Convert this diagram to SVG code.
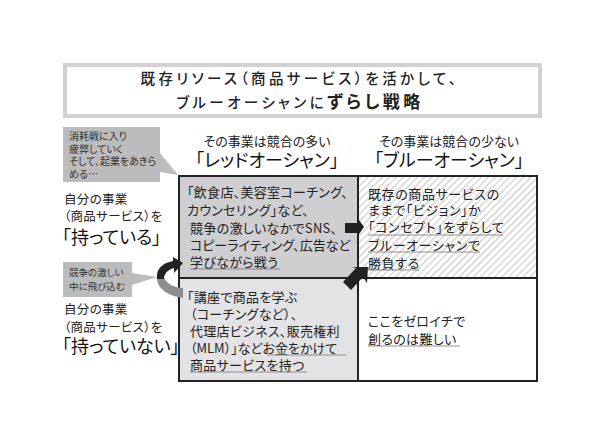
<svg xmlns="http://www.w3.org/2000/svg" width="600" height="445" viewBox="0 0 600 445">
<style>
text{font-family:"Noto Sans CJK JP","Noto Sans",sans-serif;fill:#222;font-feature-settings:"palt"}
.b{font-size:13px;letter-spacing:.3px}
.s{font-size:10px;fill:#333}
.l{font-size:12.5px;letter-spacing:.3px}
.h{font-size:18px;font-weight:400;fill:#111}
.u{fill:none;stroke:#777;stroke-width:.8}
</style>
<defs>
<pattern id="hatch" width="5" height="5" patternUnits="userSpaceOnUse" patternTransform="rotate(45)">
<rect width="5" height="5" fill="#fff"/><rect width="1.2" height="5" fill="#cdcdcd"/>
</pattern>
</defs>
<rect width="600" height="445" fill="#fff"/>
<g id="title">
<rect x="65" y="65" width="475" height="51" fill="#fff" stroke="#d2d2d2" stroke-width="4"/>
<text x="300" y="84" text-anchor="middle" font-size="14.5" font-weight="500" letter-spacing="3.4">既存リソース（商品サービス）を活かして、</text>
<text x="300" y="108" text-anchor="middle" font-size="14.5" font-weight="500" letter-spacing="3.4">ブルーオーシャンに<tspan font-size="17" font-weight="700">ずらし戦略</tspan></text>
</g>
<g id="callout-top">
<path d="M63 127H160V153L178 175L160 172V182H63Z" fill="#bcbcbc"/>
<text class="s" x="69" y="140">消耗戦に入り</text>
<text class="s" x="69" y="153">疲弊していく</text>
<text class="s" x="69" y="165">そして、起業をあきら</text>
<text class="s" x="69" y="178">める…</text>
</g>
<g id="header-red">
<text x="267" y="146" text-anchor="middle" font-size="13">その事業は競合の多い</text>
<text class="h" x="267" y="167" text-anchor="middle">「レッドオーシャン」</text>
</g>
<g id="header-blue">
<text x="449" y="146" text-anchor="middle" font-size="13">その事業は競合の少ない</text>
<text class="h" x="449" y="167" text-anchor="middle">「ブルーオーシャン」</text>
</g>
<g id="row-have">
<text class="l" x="64" y="204">自分の事業</text>
<text class="l" x="64" y="221">（商品サービス）を</text>
<text class="h" x="62" y="244">「持っている」</text>
</g>
<g id="row-havenot">
<text class="l" x="64" y="314">自分の事業</text>
<text class="l" x="64" y="332">（商品サービス）を</text>
<text class="h" x="62" y="353">「持っていない」</text>
</g>
<g id="cell-red-have">
<rect x="179" y="176" width="179" height="102" fill="#cfcfd1" stroke="#222" stroke-width="2"/>
<text class="b" x="187" y="197">「飲食店、美容室コーチング、</text>
<text class="b" x="187" y="215">カウンセリング」など、</text>
<text class="b" x="190" y="233">競争の激しいなかでSNS、</text>
<text class="b" x="190" y="250" style="letter-spacing:0">コピーライティング、広告など</text>
<text class="b" x="190" y="267">学びながら戦う</text>
<path class="u" d="M190 269H280"/>
</g>
<g id="cell-blue-have">
<rect x="358" y="176" width="179" height="102" fill="url(#hatch)" stroke="#222" stroke-width="2"/>
<text class="b" x="368" y="199" style="letter-spacing:.6px">既存の商品サービスの</text>
<text class="b" x="368" y="215" style="letter-spacing:.6px">ままで「ビジョン」か</text>
<text class="b" x="368" y="232" style="letter-spacing:.6px">「コンセプト」をずらして</text>
<text class="b" x="368" y="250" style="letter-spacing:.6px">ブルーオーシャンで</text>
<text class="b" x="368" y="268" style="letter-spacing:.6px">勝負する</text>
<path class="u" d="M368 235H503M368 252H480M368 270H420"/>
</g>
<g id="cell-red-havenot">
<rect x="179" y="278" width="179" height="103" fill="#e3e3e5" stroke="#222" stroke-width="2"/>
<text class="b" x="187" y="302">「講座で商品を学ぶ</text>
<text class="b" x="190" y="319">（コーチングなど）、</text>
<text class="b" x="190" y="336">代理店ビジネス、販売権利</text>
<text class="b" x="190" y="353" style="letter-spacing:0">（MLM）」などお金をかけて</text>
<text class="b" x="190" y="370">商品サービスを持つ</text>
<path class="u" d="M267 355H346M190 372H307"/>
</g>
<g id="cell-blue-havenot">
<rect x="358" y="278" width="179" height="103" fill="#fff" stroke="#222" stroke-width="2"/>
<text class="b" x="368" y="326">ここをゼロイチで</text>
<text class="b" x="368" y="344">創るのは難しい</text>
<path class="u" d="M368 346H460"/>
</g>
<g id="callout-mid">
<path d="M63 262H132V273L157 277L132 285V297H63Z" fill="#bcbcbc"/>
<text class="s" x="69" y="276" style="font-size:9.5px">競争の激しい</text>
<text class="s" x="69" y="290" style="font-size:9.5px">中に飛び込む</text>
</g>
<g id="connectors">
<path d="M183 298C170 296 158 290 157 279L164 277C166 284 175 288 183 288Z" fill="#8e8e8e"/>
<path d="M157 279C156 268 163 263 173 261L173 257L183 263L174 273L174 268C168 270 164 273 164 279Z" fill="#222"/>
<path d="M345 223H357V217L364 227L357 237V233H345Z" fill="#222"/>
<path d="M343 282L356 268L352 267L368 267L367 283L363 277L351 290Z" fill="#222"/>
</g>
</svg>
